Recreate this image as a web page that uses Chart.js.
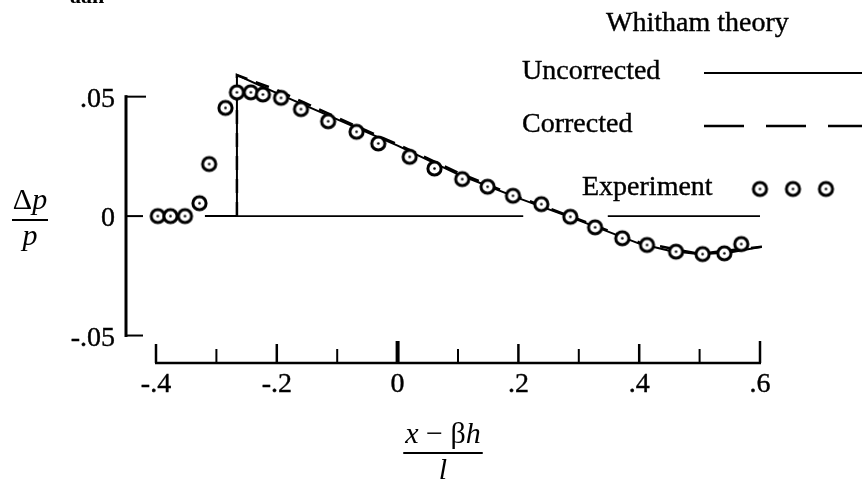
<!DOCTYPE html>
<html>
<head>
<meta charset="utf-8">
<script src="https://cdn.jsdelivr.net/npm/chart.js@4.4.1/dist/chart.umd.min.js"></script>
<style>
  html, body { margin: 0; padding: 0; background: #fff; }
  canvas { display: block; }
</style>
</head>
<body>
<canvas id="c" width="867" height="482"></canvas>
<script>
// ---- data ----
const expX = [-0.397, -0.376, -0.352, -0.328, -0.312, -0.285, -0.266, -0.243, -0.223, -0.193, -0.160, -0.115, -0.068, -0.032, 0.020, 0.061, 0.107, 0.149, 0.191, 0.238, 0.286, 0.327, 0.372, 0.413, 0.461, 0.505, 0.541, 0.569];
const expY = [0, 0, 0, 0.0054, 0.0218, 0.0453, 0.0518, 0.0518, 0.0509, 0.0495, 0.0448, 0.0397, 0.0353, 0.0304, 0.0248, 0.0199, 0.0155, 0.0123, 0.0085, 0.0050, -0.0003, -0.0047, -0.0093, -0.0121, -0.0149, -0.0159, -0.0156, -0.0117];

const uncorrX = [-0.319, -0.266, -0.266, -0.2, -0.1, 0.0, 0.1, 0.2, 0.3, 0.4, 0.45, 0.5, 0.55, 0.603];
const uncorrY = [0, 0, 0.059, 0.0515, 0.0405, 0.0295, 0.0175, 0.0075, -0.0018, -0.0115, -0.0145, -0.0160, -0.0152, -0.0128];

const corrX = [-0.266, -0.266, -0.2, -0.1, 0.0, 0.1, 0.2, 0.3, 0.4, 0.5, 0.603];
const corrY = [0, 0.059, 0.0528, 0.0412, 0.0300, 0.0182, 0.0080, -0.0014, -0.0110, -0.0158, -0.0128];

const zeroX = [-0.266, 0.208, null, 0.348, 0.600];
const zeroY = [0, 0, null, 0, 0];

const xMajorTicks = [-0.4, -0.2, 0, 0.2, 0.4, 0.6];
const xTickLabels = ['-.4', '-.2', '0', '.2', '.4', '.6'];
const xMinorTicks = [-0.3, -0.1, 0.1, 0.3, 0.5];
const yTicks = [0.05, 0, -0.05];
const yTickLabels = ['.05', '0', '-.05'];

const legendTitle = 'Whitham theory';
const legendLabels = ['Uncorrected', 'Corrected', 'Experiment'];

// ---- helpers ----
const pts = (xs, ys) => xs.map((x, i) => (x === null ? { x: NaN, y: NaN } : { x: x, y: ys[i] }));
const FONT = '"Liberation Serif", "Times New Roman", serif';

function makeMarker() {
  const c = document.createElement('canvas');
  c.width = 19; c.height = 19;
  const g = c.getContext('2d');
  g.beginPath(); g.arc(9.5, 9.5, 6.6, 0, Math.PI * 2);
  g.fillStyle = '#fff'; g.fill();
  g.lineWidth = 3; g.strokeStyle = '#000'; g.stroke();
  g.beginPath(); g.arc(9.5, 9.5, 1.3, 0, Math.PI * 2);
  g.fillStyle = '#000'; g.fill();
  return c;
}
const marker = makeMarker();

function heavyText(ctx, s, x, y) {
  ctx.fillText(s, x, y);
  ctx.lineWidth = 0.4;
  ctx.strokeText(s, x, y);
}

const decor = {
  id: 'decor',
  afterDraw(chart) {
    const ctx = chart.ctx;
    const xs = chart.scales.x, ys = chart.scales.y;
    const area = chart.chartArea;
    ctx.save();
    ctx.strokeStyle = '#000';
    ctx.fillStyle = '#000';
    ctx.lineCap = 'butt';

    // ---- Y axis (detached, left of plot) ----
    const yAxX = area.left - 30;
    ctx.lineWidth = 3;
    ctx.beginPath();
    ctx.moveTo(yAxX, ys.getPixelForValue(0.05) - 1.5);
    ctx.lineTo(yAxX, ys.getPixelForValue(-0.05) + 1.5);
    ctx.stroke();
    yTicks.forEach((v, i) => {
      const py = ys.getPixelForValue(v);
      ctx.lineWidth = 2;
      ctx.beginPath();
      ctx.moveTo(yAxX, py);
      ctx.lineTo(yAxX + (i === 0 ? 20 : 17), py);
      ctx.stroke();
    });
    ctx.font = '28px ' + FONT;
    ctx.textAlign = 'right';
    ctx.textBaseline = 'middle';
    yTicks.forEach((v, i) => {
      heavyText(ctx, yTickLabels[i], yAxX - 11, ys.getPixelForValue(v) + 3);
    });

    // ---- X axis (at bottom, ticks pointing up) ----
    const base = area.bottom;
    ctx.lineWidth = 2.5;
    ctx.beginPath();
    ctx.moveTo(xs.getPixelForValue(-0.4) - 1, base);
    ctx.lineTo(xs.getPixelForValue(0.6) + 1, base);
    ctx.stroke();
    xMajorTicks.forEach((v) => {
      const px = xs.getPixelForValue(v);
      ctx.lineWidth = v === 0 ? 4 : 2.5;
      ctx.beginPath();
      ctx.moveTo(px, base);
      ctx.lineTo(px, base - (v === 0 || v === 0.6 ? 22 : 19));
      ctx.stroke();
    });
    xMinorTicks.forEach((v) => {
      const px = xs.getPixelForValue(v);
      ctx.lineWidth = 2;
      ctx.beginPath();
      ctx.moveTo(px, base);
      ctx.lineTo(px, base - 14);
      ctx.stroke();
    });
    ctx.font = '28px ' + FONT;
    ctx.textAlign = 'center';
    ctx.textBaseline = 'middle';
    xMajorTicks.forEach((v, i) => {
      heavyText(ctx, xTickLabels[i], xs.getPixelForValue(v), base + 22);
    });

    // ---- X axis title: (x − βh) / l ----
    const IT = 'italic 30px "Liberation Serif"';
    const RG = '30px "Liberation Serif"';
    const cx = 443, ty = 434;
    const parts = [[IT, 'x'], [RG, ' \u2212 '], [RG, '\u03B2'], [IT, 'h']];
    let tw = 0;
    parts.forEach(p => { ctx.font = p[0]; tw += ctx.measureText(p[1]).width; });
    let xx = cx - tw / 2;
    ctx.textAlign = 'left';
    ctx.textBaseline = 'alphabetic';
    parts.forEach(p => { ctx.font = p[0]; ctx.fillText(p[1], xx, ty + 9); xx += ctx.measureText(p[1]).width; });
    ctx.lineWidth = 2;
    ctx.beginPath(); ctx.moveTo(cx - tw / 2 - 2, 453); ctx.lineTo(cx + tw / 2 + 2, 453); ctx.stroke();
    ctx.font = IT;
    ctx.textAlign = 'center';
    ctx.fillText('l', cx, 479);

    // ---- Y axis title: Δp / p ----
    const ycx = 30;
    ctx.font = RG;
    const dW = ctx.measureText('\u0394').width;
    ctx.font = IT;
    const pW = ctx.measureText('p').width;
    const sx = ycx - (dW + pW) / 2;
    ctx.textAlign = 'left';
    ctx.font = RG;
    ctx.fillText('\u0394', sx, 209);
    ctx.font = IT;
    ctx.fillText('p', sx + dW, 209);
    ctx.lineWidth = 2;
    ctx.beginPath(); ctx.moveTo(ycx - 18, 220); ctx.lineTo(ycx + 18, 220); ctx.stroke();
    ctx.textAlign = 'center';
    ctx.fillText('p', ycx, 245);

    // ---- Legend ----
    ctx.font = '28px ' + FONT;
    ctx.textAlign = 'left';
    ctx.textBaseline = 'middle';
    heavyText(ctx, legendTitle, 606, 24);
    heavyText(ctx, legendLabels[0], 522, 72);
    heavyText(ctx, legendLabels[1], 522, 125);
    heavyText(ctx, legendLabels[2], 582, 188);
    ctx.lineWidth = 2;
    ctx.beginPath(); ctx.moveTo(704, 73); ctx.lineTo(862, 73); ctx.stroke();
    ctx.lineWidth = 2.5;
    ctx.setLineDash([40, 22]);
    ctx.beginPath(); ctx.moveTo(704, 126); ctx.lineTo(862, 126); ctx.stroke();
    ctx.setLineDash([]);
    [760, 793, 826].forEach(px => ctx.drawImage(marker, px - 9.5, 189 - 9.5));

    // cut-off text fragment at very top
    ctx.font = 'bold 22px ' + FONT;
    ctx.textBaseline = 'alphabetic';
    ctx.fillText('aan', 70, 3);

    ctx.restore();
  }
};

new Chart(document.getElementById('c'), {
  type: 'scatter',
  data: {
    datasets: [
      {
        label: legendLabels[2],
        data: pts(expX, expY),
        pointStyle: marker,
        pointRadius: 7,
        showLine: false,
        clip: false
      },
      {
        label: legendLabels[1],
        data: pts(corrX, corrY),
        showLine: true,
        borderColor: '#000',
        borderWidth: 2.5,
        borderDash: [14, 9],
        pointRadius: 0,
        tension: 0,
        clip: false
      },
      {
        label: legendLabels[0],
        data: pts(uncorrX, uncorrY),
        showLine: true,
        borderColor: '#000',
        borderWidth: 2,
        pointRadius: 0,
        tension: 0,
        clip: false
      },
      {
        label: 'zero',
        data: pts(zeroX, zeroY),
        showLine: true,
        spanGaps: false,
        borderColor: '#000',
        borderWidth: 1.6,
        pointRadius: 0,
        clip: false
      }
    ]
  },
  options: {
    responsive: false,
    animation: false,
    devicePixelRatio: 1,
    layout: { autoPadding: false, padding: { left: 156, right: 107, top: 25, bottom: 119 } },
    scales: {
      x: { type: 'linear', min: -0.4, max: 0.6, display: false },
      y: { type: 'linear', min: -0.0615, max: 0.08, display: false }
    },
    plugins: { legend: { display: false }, tooltip: { enabled: false } },
    events: []
  },
  plugins: [decor]
});
</script>
</body>
</html>
